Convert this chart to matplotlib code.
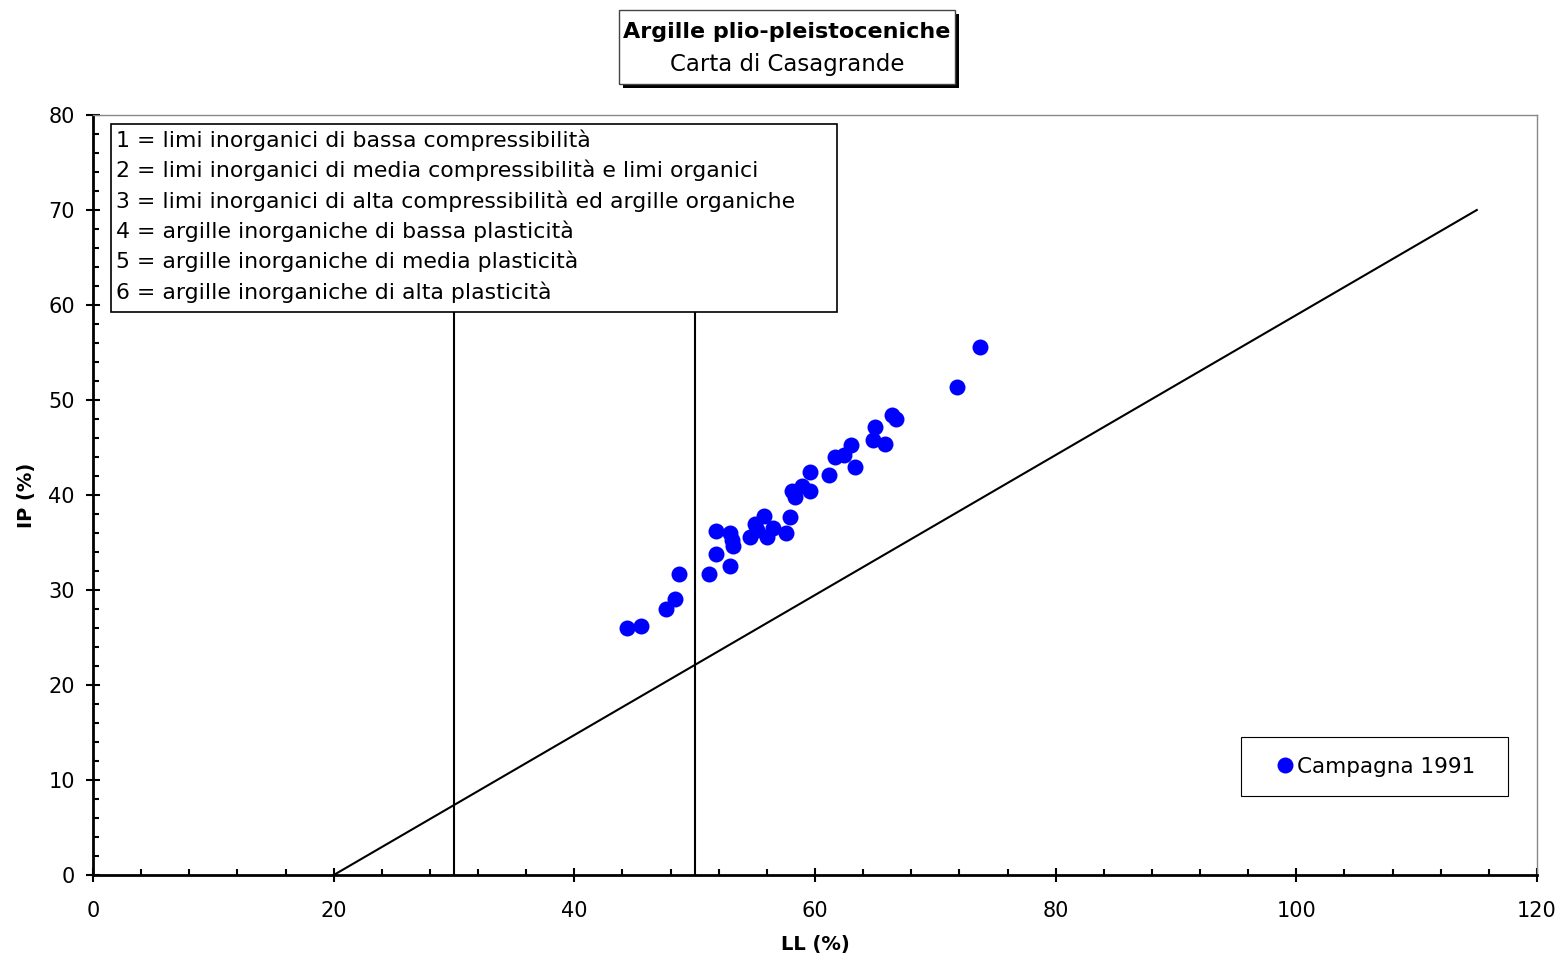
import matplotlib.pyplot as plt
from matplotlib.patches import Rectangle
from matplotlib.ticker import MultipleLocator

# Campagna 1991 - liquid limit (LL) and plasticity index (IP)
ll = [44.4, 45.5, 47.6, 48.4, 48.7, 51.2, 51.8, 51.8, 52.9, 53.1, 53.2, 52.9,
      55.0, 55.8, 56.5, 54.6, 56.0, 55.2, 57.6, 57.9,
      58.1, 58.9, 59.6, 58.3, 59.6, 61.2, 61.7, 62.4, 63.0, 63.3,
      65.0, 64.8, 65.8, 66.4, 66.7, 71.8, 73.7]
ip = [26.0, 26.2, 28.0, 29.1, 31.7, 31.7, 33.8, 36.2, 36.0, 35.3, 34.6, 32.5,
      37.0, 37.8, 36.5, 35.6, 35.6, 36.3, 36.0, 37.7,
      40.4, 40.9, 40.4, 39.8, 42.4, 42.1, 44.0, 44.2, 45.3, 42.9,
      47.2, 45.8, 45.4, 48.4, 48.0, 51.4, 55.6]

# A-line and the LL boundaries (drawn up to the class box)
a_line_ll = [20, 115]
a_line_ip = [0, 70]
ll_limits = [30, 50]
ll_limit_top = 59.3

legend_lines = [
    "1 = limi inorganici di bassa compressibilità",
    "2 = limi inorganici di media compressibilità e limi organici",
    "3 = limi inorganici di alta compressibilità ed argille organiche",
    "4 = argille inorganiche di bassa plasticità",
    "5 = argille inorganiche di media plasticità",
    "6 = argille inorganiche di alta plasticità",
]

fig = plt.figure(figsize=(15.61, 9.6), dpi=100)
ax = fig.add_axes([0.0596, 0.0885, 0.925, 0.7917])

ax.plot(a_line_ll, a_line_ip, color='black', lw=1.5, zorder=2)
for x in ll_limits:
    ax.plot([x, x], [0, ll_limit_top], color='black', lw=1.5, zorder=2)

ax.plot(ll, ip, 'o', color='#0000ff', markersize=11.5, markeredgewidth=0,
        linestyle='none', label='Campagna 1991', zorder=3)

ax.set_xlim(0, 120)
ax.set_ylim(0, 80)
ax.xaxis.set_major_locator(MultipleLocator(20))
ax.xaxis.set_minor_locator(MultipleLocator(4))
ax.yaxis.set_major_locator(MultipleLocator(10))
ax.yaxis.set_minor_locator(MultipleLocator(2))
ax.tick_params(which='major', direction='inout', length=10, width=1.5,
               labelsize=15)
ax.tick_params(axis='x', which='major', pad=14)
ax.tick_params(axis='y', which='major', pad=8)
ax.tick_params(which='minor', direction='in', length=4, width=1.5)
ax.tick_params(axis='x', which='both', top=False)
ax.tick_params(axis='y', which='both', right=False)

ax.spines['left'].set_linewidth(2)
ax.spines['bottom'].set_linewidth(2)
ax.spines['top'].set_color('#888888')
ax.spines['right'].set_color('#888888')
ax.spines['top'].set_linewidth(1)
ax.spines['right'].set_linewidth(1)

ax.set_xlabel('LL (%)', fontsize=14, fontweight='bold', labelpad=10)
ax.set_ylabel('IP (%)', fontsize=14, fontweight='bold', labelpad=9)

# Class description box
ax.add_patch(Rectangle((0.0125, 0.741), 0.5025, 0.247, transform=ax.transAxes,
                       facecolor='white', edgecolor='black', lw=1.2, zorder=4))
for i, line in enumerate(legend_lines):
    ax.text(0.0160, 0.967 - i * 0.04, line, transform=ax.transAxes,
            fontsize=15.8, va='center', ha='left', zorder=5)

# Legend: fixed frame, legend entry centred inside it
ax.add_patch(Rectangle((0.795, 0.104), 0.185, 0.0776, transform=ax.transAxes,
                       facecolor='white', edgecolor='black', lw=0.8, zorder=4))
ax.legend(loc='center', bbox_to_anchor=(0.8875, 0.1428), fontsize=15.5,
          frameon=False, handletextpad=0.05, handlelength=1.0,
          borderpad=0, borderaxespad=0).set_zorder(5)

# Title box with shadow
fig.patches.append(Rectangle((0.3990, 0.9083), 0.2152, 0.0771,
                             transform=fig.transFigure, facecolor='black',
                             edgecolor='none', zorder=1))
fig.patches.append(Rectangle((0.3965, 0.9125), 0.2152, 0.0771,
                             transform=fig.transFigure, facecolor='white',
                             edgecolor='#444444', lw=1, zorder=2))
fig.text(0.5041, 0.9667, 'Argille plio-pleistoceniche', ha='center',
         va='center', fontsize=16, fontweight='bold', zorder=3)
fig.text(0.5041, 0.9333, 'Carta di Casagrande', ha='center', va='center',
         fontsize=16.5, zorder=3)

plt.savefig('out.png', dpi=100)
